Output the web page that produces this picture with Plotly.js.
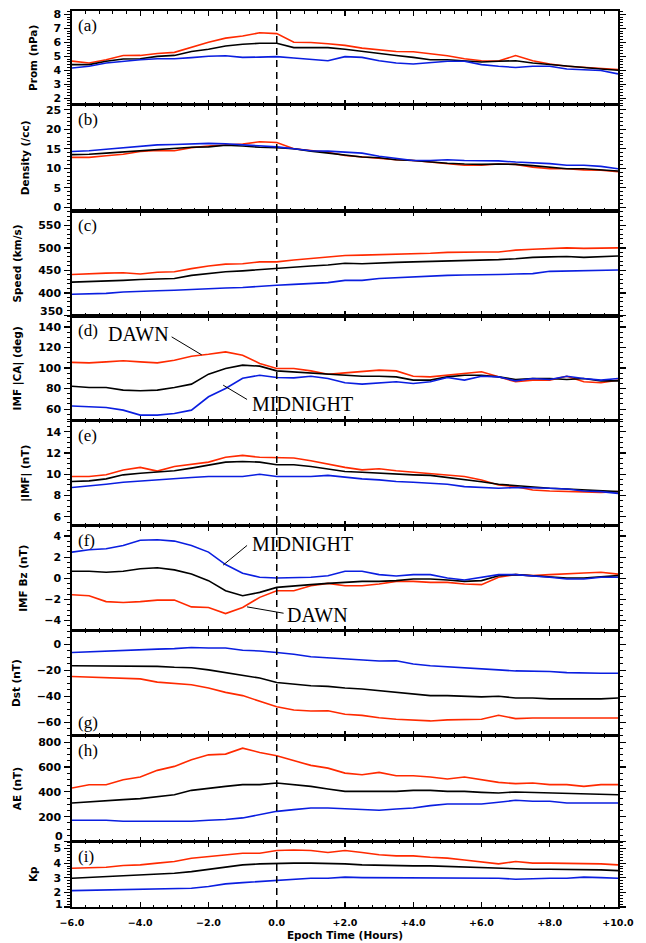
<!DOCTYPE html>
<html><head><meta charset="utf-8">
<script src="https://cdn.plot.ly/plotly-3.0.1.min.js"></script>
<style>html,body{margin:0;padding:0;background:#fff}#chart{width:646px;height:943px}</style>
</head><body><div id="chart"></div>
<script>
// Epoch time (hours)
const epoch = [-6,-5.5,-5,-4.5,-4,-3.5,-3,-2.5,-2,-1.5,-1,-0.5,0,0.5,1,1.5,2,2.5,3,3.5,4,4.5,5,5.5,6,6.5,7,7.5,8,8.5,9,9.5,10];
const xTickVals = [-6,-4,-2,0,2,4,6,8,10];
const xTickText = ['\u22126.0','\u22124.0','\u22122.0','0.0','+2.0','+4.0','+6.0','+8.0','+10.0'];

// (a) Pressure (nPa)
const promDawn = [4.65,4.52,4.75,5.05,5.06,5.2,5.28,5.65,6.0,6.3,6.45,6.68,6.62,6.0,5.98,5.9,5.78,5.58,5.45,5.34,5.32,5.18,5.04,4.82,4.68,4.66,5.05,4.68,4.45,4.28,4.2,4.12,4.05];
const promAll  = [4.4,4.4,4.64,4.8,4.82,4.99,5.06,5.34,5.5,5.74,5.86,5.93,5.93,5.62,5.62,5.62,5.5,5.34,5.22,5.06,4.92,4.75,4.75,4.68,4.59,4.64,4.68,4.52,4.4,4.28,4.16,4.09,4.0];
const promMid  = [4.16,4.28,4.52,4.64,4.75,4.82,4.82,4.9,5.0,5.04,4.92,4.94,4.97,4.87,4.8,4.68,4.97,4.92,4.68,4.52,4.45,4.52,4.64,4.64,4.4,4.28,4.2,4.28,4.28,4.09,4.05,3.98,3.74];

// (b) Density (/cc)
const denDawn = [12.8,12.8,13.2,13.6,14.3,14.6,14.5,15.3,15.7,16.0,16.2,16.8,16.6,15.0,14.5,14.1,13.3,12.9,12.5,12.2,12.0,11.6,11.2,10.8,10.8,11.1,11.0,10.3,9.9,9.9,9.6,9.5,9.1];
const denAll  = [13.5,13.6,13.9,14.2,14.5,14.8,15.2,15.4,15.5,15.9,15.7,15.4,15.3,15.0,14.4,13.9,13.3,12.9,12.7,12.2,12.0,11.6,11.3,11.1,11.0,11.1,11.0,10.7,10.3,9.9,9.9,9.6,9.3];
const denMid  = [14.3,14.5,14.9,15.3,15.7,16.0,16.1,16.2,16.4,16.3,16.0,15.8,15.5,15.0,14.5,14.4,14.1,13.9,13.1,12.5,12.0,12.0,12.2,12.0,11.9,11.9,11.6,11.4,11.2,10.8,10.8,10.5,9.9];

// (c) Speed (km/s)
const spdDawn = [441,443,444,445,442,446,447,454,460,464,465,469,469,473,476,480,483,484,485,486,486,488,490,491,491,491,495,497,499,500,499,500,500];
const spdAll  = [424,425,427,428,430,431,432,439,443,447,449,452,454,458,460,462,466,465,467,468,469,470,471,471,473,474,476,479,480,481,479,481,482];
const spdMid  = [397,398,399,402,404,405,406,408,410,411,412,415,417,419,421,423,428,428,432,434,436,437,439,440,440,441,442,443,448,449,449,451,451];

// (d) IMF cone angle (deg)
const caDawn = [105.5,105,106,107,106,105,107.5,111.5,113.4,115.7,112.5,104.4,99.5,99.5,97.2,94,95.3,96.3,97.9,97.2,92,91.4,93,94.7,96.3,91.4,86.6,88.2,88.2,92,86.6,85.6,88.2];
const caAll  = [82.3,81,81,78.5,77.8,78.5,81,84.3,94,99.5,102.8,101.8,97.2,96.3,95.3,94,93,92,92,91.4,88.2,88.2,91.4,93,93,91.4,88.8,89.8,89.8,88.8,89.8,87.5,87.5];
const caMid  = [63,62.3,61.6,59,54.2,54.2,55.8,59,72,80,90,93,90.8,90.4,92,89.8,85.6,84.3,85.6,86.6,85,86.6,90.8,88.2,92,91.4,87.5,89.8,88.8,92,89.8,88.2,89.8];

// (e) |IMF| (nT)
const bDawn = [9.79,9.79,9.95,10.4,10.65,10.3,10.74,10.96,11.15,11.6,11.78,11.6,11.53,11.53,11.28,10.96,10.65,10.42,10.52,10.33,10.2,10.1,9.9,9.8,9.47,9.0,8.84,8.52,8.43,8.37,8.3,8.3,8.37];
const bAll  = [9.32,9.38,9.57,9.95,10.1,10.2,10.33,10.58,10.84,11.15,11.2,11.15,10.9,10.9,10.74,10.52,10.27,10.2,10.1,10.0,9.95,9.9,9.7,9.57,9.3,9.06,8.94,8.75,8.68,8.62,8.52,8.43,8.37];
const bMid  = [8.75,8.94,9.06,9.25,9.38,9.47,9.63,9.7,9.79,9.79,9.79,10.0,9.79,9.79,9.79,9.9,9.7,9.57,9.47,9.32,9.25,9.16,9.06,8.84,8.75,8.68,8.75,8.68,8.68,8.62,8.43,8.37,8.2];

// (f) IMF Bz (nT)
const bzDawn = [-1.56,-1.65,-2.2,-2.29,-2.2,-2.06,-2.06,-2.7,-2.76,-3.33,-2.76,-1.8,-1.17,-1.17,-0.7,-0.48,-0.7,-0.7,-0.54,-0.29,-0.29,-0.38,-0.38,-0.54,-0.6,0.1,0.35,0.25,0.35,0.4,0.5,0.57,0.4];
const bzAll  = [0.67,0.67,0.57,0.67,0.9,1.0,0.8,0.4,-0.22,-1.17,-1.65,-1.33,-0.86,-0.7,-0.6,-0.48,-0.38,-0.29,-0.29,-0.22,-0.06,-0.06,-0.16,-0.29,-0.22,0.25,0.35,0.25,0.1,0.03,0.03,0.16,0.25];
const bzMid  = [2.48,2.7,2.8,3.1,3.6,3.65,3.52,3.1,2.48,1.3,0.48,0.1,0.03,0.1,0.1,0.25,0.67,0.67,0.35,0.22,0.35,0.35,0.03,-0.16,0.1,0.35,0.35,0.25,0.1,-0.06,-0.06,0.1,0.1];

// (g) Dst (nT)
const dstDawn = [-24.8,-25.3,-25.3,-26,-26.6,-29.1,-29.9,-31.1,-33.7,-37,-39.5,-43.8,-48.1,-50.6,-51.4,-51.2,-53.9,-54.7,-56.5,-57.7,-58.2,-59,-58.2,-58.2,-57.7,-54.7,-57.2,-56.7,-56.7,-57.2,-57.2,-57,-56.7];
const dstAll  = [-16.5,-16.5,-16.5,-16.5,-16.5,-17,-17.7,-18,-19.7,-21.8,-23.5,-26,-29.4,-30.6,-31.9,-32.4,-33.7,-34.4,-35.7,-37,-38,-39.5,-39.5,-40,-40.5,-40,-41.3,-41.3,-42,-42,-42,-42,-41.3];
const dstMid  = [-6.3,-5.7,-5.1,-4.6,-4.1,-3.7,-3.3,-2.5,-2.8,-2.8,-4.6,-5.1,-6.3,-7.6,-9.6,-10.4,-11.6,-12.2,-12.9,-12.7,-15.2,-16.5,-17.2,-18,-18.5,-19.7,-20.5,-20.5,-21,-21.8,-22.3,-22.3,-22.3];

// (h) AE (nT)
const aeDawn = [431,457,457,498,519,573,605,658,698,704,752,717,690,653,613,591,551,538,557,530,530,519,503,519,498,476,466,471,458,458,444,458,458];
const aeAll  = [310,317,324,337,345,364,377,412,425,444,458,458,471,458,444,423,404,404,404,404,412,412,404,404,396,391,399,396,391,385,385,385,377];
const aeMid  = [171,171,171,163,163,163,158,163,171,177,190,217,243,257,270,270,265,257,252,262,270,289,302,302,302,316,332,324,324,310,310,316,310];

// (i) Kp
const kpDawn = [3.65,3.68,3.72,3.84,3.88,4.0,4.11,4.34,4.45,4.57,4.68,4.68,4.86,4.9,4.86,4.73,4.86,4.73,4.57,4.5,4.5,4.4,4.34,4.22,4.11,3.95,4.11,4.0,4.0,4.0,3.95,3.95,3.88];
const kpAll  = [2.97,3.02,3.08,3.14,3.2,3.25,3.31,3.42,3.58,3.72,3.88,3.95,4.0,4.0,4.0,4.0,3.95,3.88,3.84,3.81,3.81,3.81,3.77,3.72,3.72,3.65,3.65,3.58,3.58,3.58,3.54,3.54,3.49];
const kpMid  = [2.12,2.15,2.17,2.19,2.21,2.25,2.28,2.28,2.4,2.58,2.67,2.74,2.81,2.9,2.97,2.97,3.04,3.01,3.01,2.97,3.01,3.01,2.97,2.97,2.97,2.97,2.9,2.95,2.97,2.97,3.04,3.01,2.97];

// y tick values per panel
const promTicks = [2,3,4,5,6,7,8];
const denTicks  = [0,5,10,15,20,25];
const spdTicks  = [350,400,450,500,550];
const caTicks   = [60,80,100,120,140];
const bTicks    = [6,8,10,12,14];
const bzTicks   = [-4,-2,0,2,4];
const dstTicks  = [-60,-40,-20,0];
const aeTicks   = [0,200,400,600,800];
const kpTicks   = [1,2,3,4,5];

const RED = '#ff2a00', BLACK = '#000000', BLUE = '#0a1ee0';

const panels = [
  {label:'(a)', title:'Prom (nPa)',     dawn:promDawn, all:promAll, mid:promMid, ticks:promTicks, range:[1.53,8.24],  minor:0.2},
  {label:'(b)', title:'Density (/cc)',  dawn:denDawn,  all:denAll,  mid:denMid,  ticks:denTicks,  range:[-0.94,26.3], minor:1},
  {label:'(c)', title:'Speed (km/s)',   dawn:spdDawn,  all:spdAll,  mid:spdMid,  ticks:spdTicks,  range:[349,582],    minor:10, liftFirst:4},
  {label:'(d)', title:'IMF |CA| (deg)', dawn:caDawn,   all:caAll,   mid:caMid,   ticks:caTicks,   range:[48.6,150.7], minor:5},
  {label:'(e)', title:'|IMF| (nT)',     dawn:bDawn,    all:bAll,    mid:bMid,    ticks:bTicks,    range:[5.15,15.04], minor:0.5},
  {label:'(f)', title:'IMF Bz (nT)',    dawn:bzDawn,   all:bzAll,   mid:bzMid,   ticks:bzTicks,   range:[-4.95,4.97], minor:0.5},
  {label:'(g)', title:'Dst (nT)',       dawn:dstDawn,  all:dstAll,  mid:dstMid,  ticks:dstTicks,  range:[-70.3,10.5], minor:5, labelBottom:true},
  {label:'(h)', title:'AE (nT)',        dawn:aeDawn,   all:aeAll,   mid:aeMid,   ticks:aeTicks,   range:[0,853],      minor:50, liftFirst:5},
  {label:'(i)', title:'Kp',             dawn:kpDawn,   all:kpAll,   mid:kpMid,   ticks:kpTicks,   range:[1,5.48],     minor:0.2, liftFirst:3}
];
// panel vertical extents in paper fraction
const domains = [[0.8954,1],[0.7768,0.8954],[0.6597,0.7768],[0.5426,0.6597],[0.4255,0.5426],[0.3084,0.4255],[0.1913,0.3084],[0.0731,0.1913],[0,0.0731]];

const sans = 'DejaVu Sans, Arial, sans-serif';
const tickFont = {family:sans, size:11, color:'#000', weight:'bold'};
const xTickFont = {family:sans, size:9.5, color:'#000', weight:'bold'};
const titleFont = {family:sans, size:10.5, color:'#000', weight:'bold'};
const serif = 'Liberation Serif, Times New Roman, serif';
const fmt = v => (v<0 ? '\u2212'+Math.abs(v) : String(v));

const traces = [];
const layout = {
  width:646, height:943,
  margin:{l:71.7, r:27.7, t:10.5, b:35.7, pad:0},
  paper_bgcolor:'#fff', plot_bgcolor:'#fff',
  showlegend:false,
  annotations:[], shapes:[]
};

const YTICKLEN = 6;
panels.forEach((p,i)=>{
  const n = i+1;
  const xs = n===1 ? 'x' : 'x'+n;
  const ys = n===1 ? 'y' : 'y'+n;
  [[p.dawn,RED],[p.all,BLACK],[p.mid,BLUE]].forEach(([vals,col])=>{
    traces.push({x:epoch, y:vals, xaxis:xs, yaxis:ys, type:'scatter', mode:'lines',
      line:{color:col, width:1.6}, hoverinfo:'skip'});
  });
  const last = (n===panels.length);
  layout['xaxis'+(n===1?'':n)] = {
    range:[-6,10], anchor:ys, domain:[0,1],
    showline:true, linecolor:'#000', linewidth:1.6, mirror:'ticks',
    ticks:'inside', ticklen:5, tickwidth:1.2, tickcolor:'#000',
    tickmode:'array', tickvals:xTickVals, ticktext:xTickText,
    showticklabels:last, tickfont:xTickFont, ticklabelstandoff: last ? 6 : 0,
    minor:{ticks:'inside', ticklen:2.5, tickwidth:1, tickcolor:'#000', tickmode:'linear', tick0:-6, dtick:0.4},
    showgrid:false, zeroline:false, fixedrange:true,
    title: last ? {text:'Epoch Time (Hours)', font:titleFont, standoff:4} : undefined
  };
  // bottom-edge label drawn separately (lifted slightly, as in the original plot)
  const text = p.ticks.map((v,k)=> (p.liftFirst && k===0) ? '' : fmt(v));
  layout['yaxis'+(n===1?'':n)] = {
    range:p.range, domain:domains[i], anchor:xs,
    showline:true, linecolor:'#000', linewidth:1.6, mirror:'ticks',
    ticks:'outside', ticklen:YTICKLEN, tickwidth:1.2, tickcolor:'#000',
    tickmode:'array', tickvals:p.ticks, ticktext:text,
    minor:{ticks:'outside', ticklen:3, tickwidth:1, tickcolor:'#000', tickmode:'linear', dtick:p.minor, tick0:0},
    tickfont:tickFont, ticklabelstandoff:1,
    showgrid:false, zeroline:false, fixedrange:true,
    title:{text:p.title, font:titleFont, standoff:14}
  };
  if (p.liftFirst) {
    layout.annotations.push({xref:xs+' domain', yref:ys, x:0, y:p.ticks[0],
      xanchor:'right', yanchor:'middle', xshift:-(YTICKLEN+1), yshift:p.liftFirst,
      text:fmt(p.ticks[0]), showarrow:false, font:tickFont});
  }
  layout.annotations.push({
    xref:xs, yref:ys+' domain', x:-5.88, y:p.labelBottom?0:1,
    xanchor:'left', yanchor:p.labelBottom?'bottom':'top', yshift:p.labelBottom?2:-3,
    text:p.label, showarrow:false, font:{family:serif, size:17, color:'#000'}
  });
});

// vertical dashed line at epoch zero
layout.shapes.push({type:'line', xref:'x', yref:'paper', x0:0, x1:0, y0:0, y1:1,
  line:{color:'#000', width:1.5, dash:'7px,5px'}});

// DAWN / MIDNIGHT labels with leader lines
const lab = (xs, ys, x, y, t)=>layout.annotations.push({xref:xs, yref:ys, x:x, y:y, text:t,
  showarrow:false, xanchor:'center', yanchor:'middle', font:{family:serif, size:20, color:'#000'}});
const lead = (xs, ys, x0, y0, x1, y1)=>layout.shapes.push({type:'line', xref:xs, yref:ys,
  x0:x0, y0:y0, x1:x1, y1:y1, line:{color:'#000', width:1}});
lab('x4','y4',-4.05,132.9,'DAWN');
lead('x4','y4',-3.08,130.3,-2.2,112.8);
lab('x4','y4',0.75,64.5,'MIDNIGHT');
lead('x4','y4',-0.87,69.4,-1.57,83.3);
lab('x6','y6',0.75,3.2,'MIDNIGHT');
lead('x6','y6',-0.87,3.11,-1.57,1.25);
lab('x6','y6',1.2,-3.46,'DAWN');
lead('x6','y6',0.2,-3.3,-0.87,-2.7);

Plotly.newPlot('chart', traces, layout, {staticPlot:true, displayModeBar:false});
</script>
</body></html>
